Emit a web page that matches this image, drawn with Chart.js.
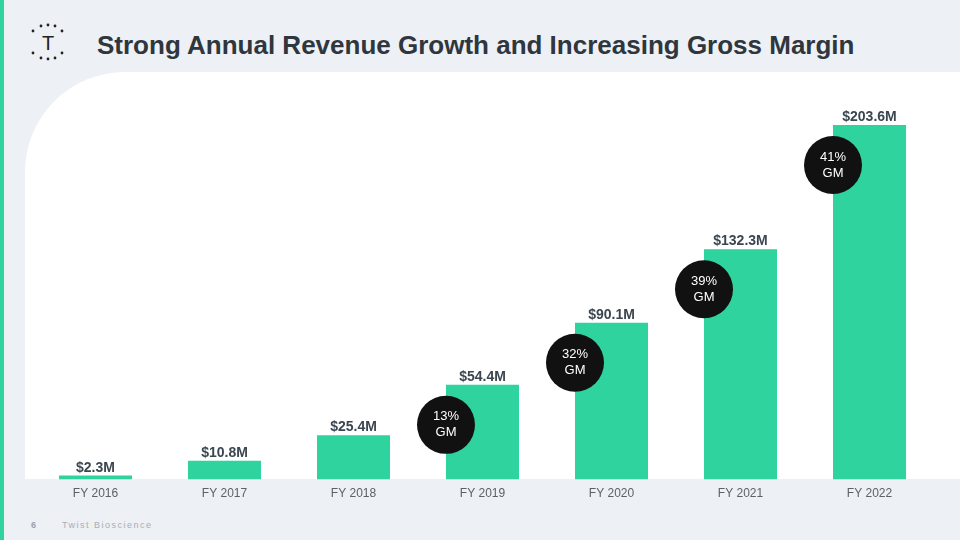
<!DOCTYPE html>
<html lang="en">
<head>
    <meta charset="UTF-8">
    <title>Strong Annual Revenue Growth and Increasing Gross Margin</title>
    <script src="https://cdn.jsdelivr.net/npm/chart.js"></script>
    <style>
        html, body {
            margin: 0;
            padding: 0;
        }
        body {
            width: 960px;
            height: 540px;
            position: relative;
            overflow: hidden;
            background-color: #edf0f4;
            font-family: 'Liberation Sans', Arial, sans-serif;
        }
        .stripe {
            position: absolute;
            left: 0; top: 0;
            width: 4px; height: 540px;
            background: #2ed39d;
        }
        .panel {
            position: absolute;
            left: 25px; top: 72px;
            width: 935px; height: 407px;
            background: #ffffff;
            border-top-left-radius: 100px;
        }
        .logo {
            position: absolute;
            left: 28px; top: 22px;
        }
        h1 {
            position: absolute;
            left: 97px; top: 29px;
            margin: 0;
            font-size: 26px;
            font-weight: bold;
            color: #2f363d;
            line-height: 32px;
        }
        .footer {
            position: absolute;
            top: 520px;
            font-size: 9px;
            color: #a8aeb6;
        }
        #chart {
            position: absolute;
            left: 0; top: 0;
        }
    </style>
</head>
<body>
    <div class="stripe"></div>
    <div class="panel"></div>
    <svg class="logo" width="40" height="42" viewBox="0 0 40 42">
        <g fill="#222">
            <circle cx="5" cy="9" r="1.4"/><circle cx="13" cy="4" r="1.4"/><circle cx="20" cy="3" r="1.4"/>
            <circle cx="27" cy="4" r="1.4"/><circle cx="34" cy="9" r="1.4"/>
            <circle cx="5" cy="31" r="1.4"/><circle cx="13" cy="36" r="1.4"/><circle cx="20" cy="37" r="1.4"/>
            <circle cx="27" cy="36" r="1.4"/><circle cx="34" cy="31" r="1.4"/>
        </g>
        <text x="20" y="28" text-anchor="middle" font-family="Liberation Sans, Arial" font-size="20" fill="#222">T</text>
    </svg>
    <h1>Strong Annual Revenue Growth and Increasing Gross Margin</h1>
    <div class="footer" style="left:31px;font-weight:bold;color:#9aa1a9;">6</div>
    <div class="footer" style="left:62px;letter-spacing:1.5px;">Twist Bioscience</div>
    <canvas id="chart" width="960" height="540"></canvas>

    <script>
        const years = ["FY 2016", "FY 2017", "FY 2018", "FY 2019", "FY 2020", "FY 2021", "FY 2022"];
        const revenue = [2.3, 10.8, 25.4, 54.4, 90.1, 132.3, 203.6];
        const grossMargin = [null, null, null, 13, 32, 39, 41];

        // value labels above bars + gross margin bubbles
        const barLabels = {
            id: "barLabels",
            afterDatasetsDraw(chart) {
                const ctx = chart.ctx;
                const bars = chart.getDatasetMeta(0).data;
                ctx.save();
                bars.forEach((bar, i) => {
                    ctx.fillStyle = "#3b4650";
                    ctx.font = "bold 14px 'Liberation Sans', Arial";
                    ctx.textAlign = "center";
                    ctx.textBaseline = "alphabetic";
                    ctx.fillText("$" + revenue[i].toFixed(1) + "M", bar.x, bar.y - 4);

                    if (grossMargin[i] != null) {
                        const cx = bar.x - bar.width / 2;
                        const cy = bar.y + 40;
                        ctx.beginPath();
                        ctx.arc(cx, cy, 29, 0, Math.PI * 2);
                        ctx.fillStyle = "#111111";
                        ctx.fill();
                        ctx.fillStyle = "#ffffff";
                        ctx.font = "13px 'Liberation Sans', Arial";
                        ctx.textBaseline = "middle";
                        ctx.fillText(grossMargin[i] + "%", cx, cy - 8);
                        ctx.fillText("GM", cx, cy + 8);
                    }
                });
                ctx.restore();
            }
        };

        new Chart(document.getElementById("chart"), {
            type: "bar",
            data: {
                labels: years,
                datasets: [{
                    data: revenue,
                    backgroundColor: "#2ed39d",
                    barPercentage: 0.566,
                    categoryPercentage: 1
                }]
            },
            options: {
                responsive: false,
                animation: false,
                layout: {
                    padding: { left: 31, right: 26, top: 100, bottom: 32 }
                },
                plugins: {
                    legend: { display: false },
                    tooltip: { enabled: false }
                },
                scales: {
                    x: {
                        grid: { display: false, drawTicks: false, tickLength: 0 },
                        border: { display: false },
                        ticks: {
                            color: "#5b6168",
                            padding: 7,
                            font: { family: "'Liberation Sans', Arial", size: 12 }
                        }
                    },
                    y: {
                        display: false,
                        min: 0,
                        max: 218
                    }
                }
            },
            plugins: [barLabels]
        });
    </script>
</body>
</html>
